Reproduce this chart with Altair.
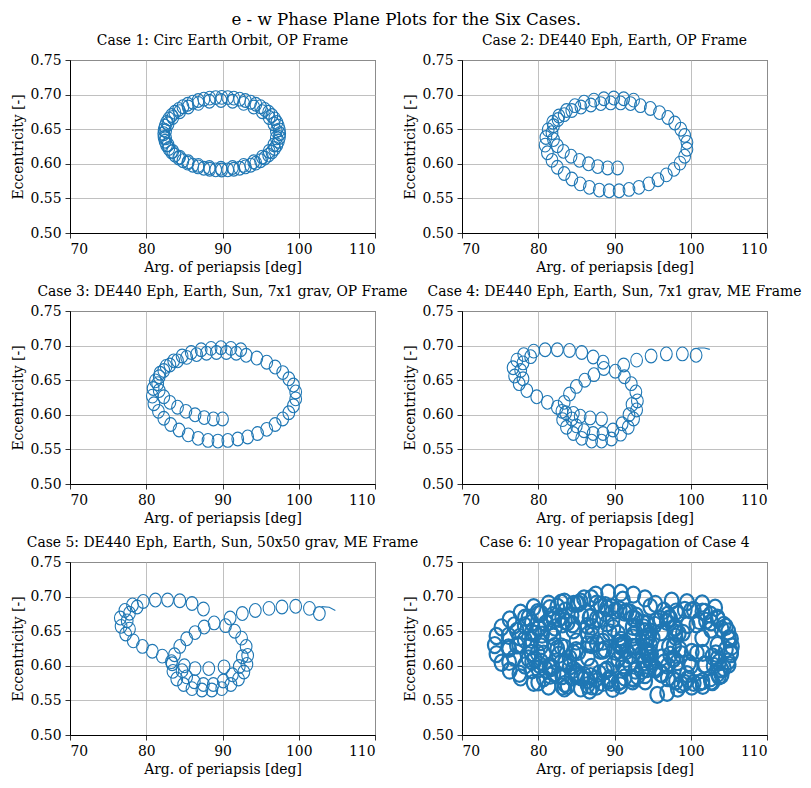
import altair as alt
import pandas as pd

# ---------------- data (loop centres) ----------------
c1_w = [97.50, 97.46, 97.33, 97.13, 96.84, 96.48, 96.05, 95.55, 94.99, 94.37, 93.70, 92.99, 92.25, 91.48, 90.69,
        89.90, 89.11, 88.32, 87.55, 86.81, 86.10, 85.43, 84.81, 84.25, 83.75, 83.32, 82.96, 82.67, 82.47, 82.34,
        82.30, 82.34, 82.47, 82.67, 82.96, 83.32, 83.75, 84.25, 84.81, 85.43, 86.10, 86.81, 87.55, 88.32, 89.11,
        89.90, 90.69, 91.48, 92.25, 92.99, 93.70, 94.37, 94.99, 95.55, 96.05, 96.48, 96.84, 97.13, 97.33, 97.46,
        97.06, 96.74, 96.12, 95.22, 94.09, 92.77, 91.32, 89.80, 88.28, 86.83, 85.51, 84.38, 83.48, 82.86, 82.54,
        82.54, 82.86, 83.48, 84.38, 85.51, 86.83, 88.28, 89.80, 91.32, 92.77, 94.09, 95.22, 96.12, 96.74, 97.06]
c1_e = [.6435, .6490, .6544, .6597, .6649, .6698, .6744, .6786, .6825, .6860, .6890, .6915, .6934, .6949, .6957,
        .6960, .6957, .6949, .6934, .6915, .6890, .6860, .6825, .6786, .6744, .6698, .6649, .6597, .6544, .6490,
        .6435, .6380, .6326, .6273, .6221, .6172, .6126, .6084, .6045, .6010, .5980, .5955, .5936, .5921, .5913,
        .5910, .5913, .5921, .5936, .5955, .5980, .6010, .6045, .6084, .6126, .6172, .6221, .6273, .6326, .6380,
        .6476, .6576, .6670, .6753, .6821, .6873, .6904, .6915, .6904, .6873, .6821, .6753, .6670, .6576, .6476,
        .6374, .6274, .6180, .6097, .6029, .5977, .5946, .5935, .5946, .5977, .6029, .6097, .6180, .6274, .6374]

c2_w = [90.4, 89.1, 87.8, 86.6, 85.4, 84.3, 83.3, 82.5, 82.0, 81.8, 82.0, 82.6, 83.4, 84.4, 85.6, 86.9, 88.2, 89.5,
        90.8, 92.1, 93.4,
        94.7, 95.9, 97.0, 97.9, 98.7, 99.2, 99.5, 99.5, 99.2, 98.6, 97.8, 96.8, 95.7, 94.5, 93.2, 91.9, 90.6, 89.3,
        88.0, 86.7, 85.5, 84.4, 83.4, 82.5, 81.8, 81.2, 80.9, 81.0, 81.3, 81.9, 82.7, 83.7, 84.8, 86.0, 87.3, 88.6,
        89.9, 91.2, 92.5]
c2_e = [.594, .594, .596, .600, .605, .611, .618, .626, .635, .645, .655, .664, .671, .677, .682, .685, .687, .688,
        .688, .687, .684,
        .680, .674, .667, .659, .650, .641, .631, .621, .611, .601, .592, .584, .577, .571, .566, .563, .561, .561,
        .562, .566, .571, .578, .586, .595, .605, .616, .627, .638, .649, .660, .669, .677, .684, .689, .692, .694,
        .695, .694, .692]

c3_w = [90.0, 88.8, 87.6, 86.4, 85.2, 84.1, 83.1, 82.3, 81.7, 81.5, 81.7, 82.3, 83.1, 84.1, 85.3, 86.6, 87.9, 89.2,
        90.5, 91.8, 93.1,
        94.5, 95.8, 96.9, 97.9, 98.7, 99.3, 99.6, 99.6, 99.3, 98.7, 97.9, 96.9, 95.8, 94.6, 93.3, 92.0, 90.7, 89.4,
        88.1, 86.8, 85.5, 84.3, 83.2, 82.3, 81.6, 81.0, 80.8, 80.9, 81.2, 81.8, 82.6, 83.6, 84.7, 85.9, 87.2, 88.5,
        89.8, 91.1, 92.4]
c3_e = [.594, .594, .596, .600, .605, .611, .618, .626, .635, .645, .655, .664, .672, .678, .683, .687, .689, .690,
        .690, .689, .686,
        .682, .676, .669, .661, .652, .643, .633, .623, .613, .603, .594, .586, .579, .573, .568, .565, .563, .562,
        .563, .566, .571, .578, .586, .595, .605, .616, .627, .638, .649, .660, .670, .678, .685, .690, .694, .696,
        .697, .696, .694]

c4_w = [100.7, 98.9, 96.8, 94.8, 92.9, 91.2,
        88.6, 90.1, 91.3, 92.2, 92.8, 93.0, 92.9, 92.5, 91.8, 90.8, 89.6, 88.3, 87.0, 85.7, 84.6, 83.7, 83.2, 83.1,
        83.4, 84.1, 85.0, 86.1, 87.3,
        92.3, 91.9, 91.0, 89.8, 88.5, 87.2, 86.0, 85.0, 84.4,
        88.3, 86.8, 85.5, 84.6,
        88.5, 87.2, 85.7, 84.1, 82.5, 80.9, 79.4, 78.1, 77.2, 76.7, 76.9, 77.5, 78.5, 79.8, 81.2, 82.5, 83.6,
        79.0, 78.0, 77.7, 78.0]
c4_e = [.686, .688, .688, .685, .679, .672,
        .667, .663, .655, .645, .633, .620, .607, .594, .582, .572, .565, .562, .562, .566, .573, .582, .593, .605,
        .618, .630, .641, .650, .658,
        .615, .600, .587, .578, .573, .573, .577, .584, .594,
        .594, .5955, .598, .602,
        .676, .6835, .690, .693, .694, .694, .692, .687, .679, .668, .656, .645, .635, .626, .618, .611, .603,
        .684, .675, .664, .652]
tail4_w = [100.9, 101.8, 102.5]
tail4_e = [0.6965, 0.6965, 0.6945]

c5_w = [102.7, 101.4, 99.6, 97.8, 96.1, 94.3, 92.6, 91.0,
        88.9, 90.4, 91.6, 92.5, 93.1, 93.3, 93.2, 92.8, 92.1, 91.1, 89.9, 88.6, 87.3, 86.0, 84.9, 84.0, 83.5, 83.4,
        83.7, 84.4, 85.3, 86.4, 87.6,
        92.6, 92.2, 91.3, 90.1, 88.8, 87.5, 86.3, 85.3, 84.7,
        86.4, 88.2, 90.2, 85.0,
        87.5, 86.0, 84.4, 82.8, 81.2, 79.6, 78.2, 77.2, 76.6, 76.7, 77.3, 78.3, 79.5, 80.8, 82.1, 83.3,
        78.8, 77.8, 77.5, 77.8]
c5_e = [.6755, .683, .686, .685, .683, .680, .6755, .669,
        .662, .658, .650, .640, .628, .615, .602, .591, .581, .573, .567, .565, .565, .567, .573, .581, .592, .603,
        .616, .628, .639, .648, .656,
        .613, .599, .587, .578, .573, .573, .577, .584, .593,
        .596, .596, .5985, .600,
        .682, .690, .694, .695, .695, .693, .688, .680, .669, .657, .646, .636, .628, .621, .614, .606,
        .685, .676, .665, .653]
tail5_w = [103.0, 104.0, 104.8]
tail5_e = [0.6855, 0.6845, 0.6800]

c6_w = [94.70, 94.48, 93.82, 92.75, 91.32, 89.60, 87.65, 85.57, 83.43, 81.35, 79.40, 77.68, 76.25, 75.18, 74.52,
        74.30, 74.52, 75.18, 76.25, 77.68, 79.40, 81.35, 83.43, 85.57, 87.65, 89.60, 91.32, 92.75, 93.82, 94.48,
        98.00, 97.82, 97.31, 96.47, 95.35, 94.00, 92.47, 90.84, 89.16, 87.53, 86.00, 84.65, 83.53, 82.69, 82.18,
        82.00, 82.18, 82.69, 83.53, 84.65, 86.00, 87.53, 89.16, 90.84, 92.47, 94.00, 95.35, 96.47, 97.31, 97.82,
        105.40, 105.28, 104.92, 104.33, 103.55, 102.60, 101.53, 100.39, 99.21, 98.07, 97.00, 96.05, 95.27, 94.68,
        94.32, 94.20, 94.32, 94.68, 95.27, 96.05, 97.00, 98.07, 99.21, 100.39, 101.53, 102.60, 103.55, 104.33,
        104.92, 105.28,
        105.30, 104.97, 104.04, 102.67, 101.10, 99.60, 98.43, 97.78, 97.78, 98.43, 99.60, 101.10, 102.67, 104.04,
        104.97,
        91.00, 90.87, 90.48, 89.85, 89.01, 88.00, 86.85, 85.63, 84.37, 83.15, 82.00, 80.99, 80.15, 79.52, 79.13,
        79.00, 79.13, 79.52, 80.15, 80.99, 82.00, 83.15, 84.37, 85.63, 86.85, 88.00, 89.01, 89.85, 90.48, 90.87,
        94.80, 94.17, 92.38, 89.76, 86.73, 83.85, 81.59, 80.36, 80.36, 81.59, 83.85, 86.73, 89.76, 92.38, 94.17,
        98.30, 96.90, 95.60,
        95.00, 94.23, 92.02, 88.78, 85.06, 81.50, 78.72, 77.20, 77.20, 78.72, 81.50, 85.06, 88.78, 92.02, 94.23,
        103.50, 102.67, 100.74, 98.98, 98.56, 99.75, 101.77, 103.29,
        85.00, 84.61, 83.51, 81.89, 80.03, 78.25, 76.86, 76.10, 76.10, 76.86, 78.25, 80.03, 81.89, 83.51, 84.61,
        94.00, 93.70, 92.84, 91.58, 90.13, 88.75, 87.67, 87.08, 87.08, 87.67, 88.75, 90.13, 91.58, 92.84, 93.70,
        94.00, 93.57, 92.35, 90.55, 88.48, 86.50, 84.96, 84.11, 84.11, 84.96, 86.50, 88.48, 90.55, 92.35, 93.57,
        98.00, 97.14, 94.69, 91.09, 86.95, 83.00, 79.91, 78.22, 78.22, 79.91, 83.00, 86.95, 91.09, 94.69, 97.14,
        92.00, 91.31, 89.35, 86.47, 83.16, 80.00, 77.53, 76.18, 76.18, 77.53, 80.00, 83.16, 86.47, 89.35, 91.31,
        105.00, 104.61, 103.51, 101.89, 100.03, 98.25, 96.86, 96.10, 98.25, 100.03, 101.89, 103.51, 104.61,
        93.00, 92.40, 90.68, 88.16, 85.27, 82.50, 80.34, 79.15, 79.15, 80.34, 82.50, 85.27, 88.16, 90.68, 92.40,
        97.00, 96.23, 94.02, 90.78, 87.06, 83.50, 80.72, 79.20, 79.20, 80.72, 83.50, 87.06, 90.78, 94.02, 96.23,
        104.00, 103.70, 102.84, 101.58, 100.13, 98.75, 97.67, 97.67, 98.75, 100.13, 101.58, 102.84, 103.70,
        97.50, 99.50, 101.50, 103.20,
        80.5, 86.5, 92.5, 88.5, 83.0, 91.5, 86.5, 101.5, 100.8, 103.0, 99.5, 77.5, 84.5, 89.0, 95.5, 98.0,
        102.0, 93.0, 81.5, 85.0]
c6_e = [.6300, .6431, .6556, .6670, .6768, .6846, .6899, .6927, .6927, .6899, .6846, .6768, .6670, .6556, .6431,
        .6300, .6169, .6044, .5930, .5832, .5754, .5701, .5673, .5673, .5701, .5754, .5832, .5930, .6044, .6169,
        .6420, .6553, .6680, .6796, .6896, .6974, .7029, .7057, .7057, .7029, .6974, .6896, .6796, .6680, .6553,
        .6420, .6287, .6160, .6044, .5944, .5866, .5811, .5783, .5783, .5811, .5866, .5944, .6044, .6160, .6287,
        .6280, .6390, .6496, .6592, .6674, .6739, .6784, .6807, .6807, .6784, .6739, .6674, .6592, .6496,
        .6390, .6280, .6170, .6064, .5968, .5886, .5821, .5776, .5753, .5753, .5776, .5821, .5886, .5968,
        .6064, .6170,
        .6200, .6383, .6534, .6628, .6648, .6590, .6465, .6294, .6106, .5935, .5810, .5752, .5772, .5866,
        .6017,
        .6280, .6374, .6463, .6545, .6614, .6670, .6708, .6728, .6728, .6708, .6670, .6614, .6545, .6463, .6374,
        .6280, .6186, .6097, .6015, .5946, .5890, .5852, .5832, .5832, .5852, .5890, .5946, .6015, .6097, .6186,
        .6170, .6386, .6564, .6674, .6697, .6629, .6482, .6280, .6060, .5858, .5711, .5643, .5666, .5776, .5954,
        .5670, .5610, .5580,
        .6400, .6604, .6772, .6876, .6898, .6833, .6694, .6504, .6296, .6106, .5967, .5903, .5925, .6029, .6197,
        .6300, .6523, .6599, .6476, .6238, .6040, .6015, .6178,
        .6350, .6513, .6647, .6730, .6748, .6696, .6585, .6433, .6267, .6115, .6004, .5952, .5970, .6053, .6187,
        .6500, .6622, .6723, .6785, .6799, .6760, .6676, .6562, .6438, .6324, .6240, .6202, .6215, .6277, .6378,
        .6050, .6172, .6273, .6335, .6349, .6310, .6226, .6112, .5988, .5874, .5790, .5752, .5765, .5827, .5928,
        .6480, .6684, .6852, .6956, .6978, .6913, .6774, .6584, .6376, .6186, .6047, .5983, .6005, .6109, .6277,
        .6150, .6333, .6484, .6578, .6598, .6540, .6415, .6244, .6056, .5885, .5760, .5702, .5722, .5816, .5967,
        .6400, .6563, .6697, .6780, .6798, .6746, .6635, .6483, .6054, .6002, .6020, .6103, .6237,
        .6550, .6692, .6810, .6883, .6898, .6853, .6756, .6623, .6477, .6344, .6247, .6202, .6217, .6290, .6408,
        .6000, .6122, .6223, .6285, .6299, .6260, .6176, .6062, .5938, .5824, .5740, .5702, .5715, .5777, .5878,
        .5950, .6052, .6136, .6188, .6199, .6167, .6097, .5803, .5733, .5701, .5712, .5764, .5848,
        .6940, .6920, .6900, .6840,
        .645, .645, .645, .622, .628, .610, .612, .640, .618, .600, .588, .630, .660, .683, .665, .655,
        .665, .585, .600, .585]

titles = [
    "Case 1: Circ Earth Orbit, OP Frame",
    "Case 2: DE440 Eph, Earth, OP Frame",
    "Case 3: DE440 Eph, Earth, Sun, 7x1 grav, OP Frame",
    "Case 4: DE440 Eph, Earth, Sun, 7x1 grav, ME Frame",
    "Case 5: DE440 Eph, Earth, Sun, 50x50 grav, ME Frame",
    "Case 6: 10 year Propagation of Case 4",
]
series = [(c1_w, c1_e), (c2_w, c2_e), (c3_w, c3_e), (c4_w, c4_e), (c5_w, c5_e), (c6_w, c6_e)]
tails = {3: (tail4_w, tail4_e), 4: (tail5_w, tail5_e)}
x_ticks = [70, 80, 90, 100, 110]
y_ticks = [0.50, 0.55, 0.60, 0.65, 0.70, 0.75]

FONT = "DejaVu Serif"
FS = 13.9
BLUE = "#1f77b4"
LOOP = "M -0.85,0 A 0.85,1 0 1,1 0.85,0 A 0.85,1 0 1,1 -0.85,0 Z"

X = lambda: alt.X("w:Q", scale=alt.Scale(domain=[70, 110], nice=False, zero=False),
                  axis=alt.Axis(values=x_ticks, title="Arg. of periapsis [deg]", format="d"))
Y = lambda: alt.Y("e:Q", scale=alt.Scale(domain=[0.50, 0.75], nice=False, zero=False),
                  axis=alt.Axis(values=y_ticks, title="Eccentricity [-]", format=".2f"))


def panel(i, title, w, e):
    df = pd.DataFrame({"w": w, "e": e})
    dense = i == 5
    pts = alt.Chart(df).mark_point(
        shape=LOOP, filled=False, size=260 if dense else 190,
        strokeWidth=2.2 if dense else 1.1, color=BLUE, opacity=1
    ).encode(x=X(), y=Y())
    layers = [pts]
    if i in tails:
        tw, te = tails[i]
        tdf = pd.DataFrame({"w": tw, "e": te})
        layers.append(alt.Chart(tdf).mark_line(color=BLUE, strokeWidth=1.1).encode(x=X(), y=Y()))
    return alt.layer(*layers, title=alt.TitleParams(title, fontSize=FS, font=FONT, fontWeight="normal",
                                                    color="black", offset=5)).properties(width=305, height=173)


panels = [panel(i, t, w, e) for i, (t, (w, e)) in enumerate(zip(titles, series))]

chart = (
    alt.concat(*panels, columns=2, spacing={"row": 78, "column": 87}, bounds="flush")
    .properties(
        title=alt.TitleParams("e - w Phase Plane Plots for the Six Cases.", fontSize=16.7, font=FONT,
                              fontWeight="normal", color="black", anchor="middle", offset=5),
        padding={"left": 2, "top": 3, "right": 0, "bottom": 0},
        background="white",
    )
    .configure_view(stroke="black", strokeWidth=1)
    .configure_axis(
        labelFont=FONT, labelFontSize=FS, labelColor="black", labelPadding=4,
        titleFont=FONT, titleFontSize=FS, titleFontWeight="normal", titleColor="black", titlePadding=5,
        grid=True, gridColor="#b0b0b0", gridWidth=0.8,
        tickColor="black", tickSize=5, tickWidth=0.8,
        domainColor="black", domainWidth=1,
    )
)

chart.save("out.html", embed_options={"renderer": "svg", "actions": False})
